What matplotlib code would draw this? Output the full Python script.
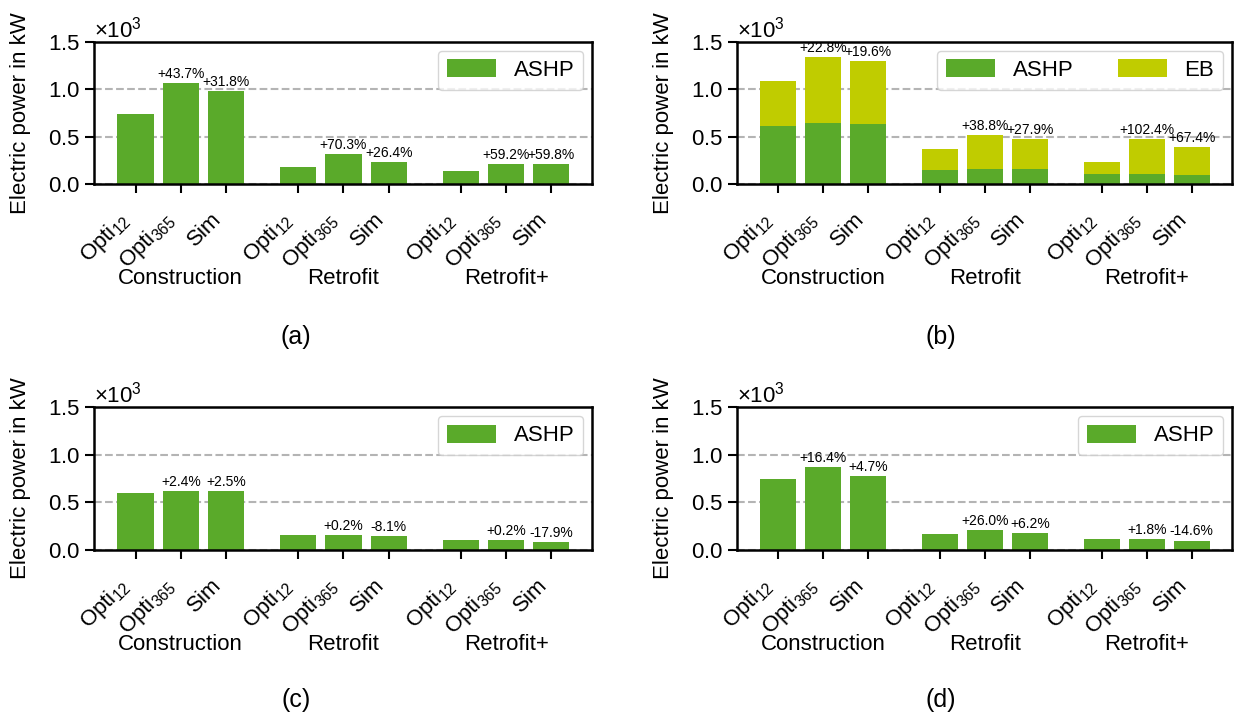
import matplotlib
matplotlib.use('Agg')
import matplotlib.pyplot as plt
import numpy as np

plt.rcParams['font.family'] = ['Liberation Sans', 'DejaVu Sans']
plt.rcParams['mathtext.default'] = 'regular'

# Categories
groups = ['Construction', 'Retrofit', 'Retrofit+']
methods = [r'Opti$_{12}$', r'Opti$_{365}$', 'Sim']

# Electric power in kW (Opti12, Opti365, Sim per group)
ashp_a = [742, 1066, 978, 184, 313, 233, 134, 213, 214]
ashp_b = [611, 643, 632, 148, 158, 158, 105, 105, 95]
eb_b = [474, 695, 664, 221, 358, 320, 127, 373, 298]
ashp_c = [603, 618, 618, 158, 158, 145, 105, 105, 86]
ashp_d = [747, 868, 780, 168, 211, 179, 116, 118, 99]

# Relative change vs. Opti12 (Opti365, Sim per group)
pct_a = ['+43.7%', '+31.8%', '+70.3%', '+26.4%', '+59.2%', '+59.8%']
pct_b = ['+22.8%', '+19.6%', '+38.8%', '+27.9%', '+102.4%', '+67.4%']
pct_c = ['+2.4%', '+2.5%', '+0.2%', '-8.1%', '+0.2%', '-17.9%']
pct_d = ['+16.4%', '+4.7%', '+26.0%', '+6.2%', '+1.8%', '-14.6%']

captions = ['(a)', '(b)', '(c)', '(d)']

C_ASHP = '#5aaa2a'
C_EB = '#c0cc00'
FS = 16

W, H = 1237, 720
fig = plt.figure(figsize=(W / 100, H / 100), dpi=100)

# axes boxes in pixels: left, right, top, bottom
boxes = [(94, 592, 41.7, 184), (737, 1232, 41.7, 184),
         (94, 592, 407, 550), (737, 1232, 407, 550)]
cap_pos = [(296, 337), (941, 337), (296, 700), (941, 700)]

x = np.array([g * 3.6 + i for g in range(len(groups)) for i in range(len(methods))])


def draw_panel(ax, ashp, pct, eb=None):
    ax.bar(x, ashp, width=0.8, color=C_ASHP, label='ASHP', zorder=2)
    tops = np.array(ashp, dtype=float)
    if eb is not None:
        ax.bar(x, eb, width=0.8, bottom=ashp, color=C_EB, label='EB', zorder=2)
        tops = tops + np.array(eb)

    # percentage labels over Opti365 and Sim bars
    k = 0
    for g in range(len(groups)):
        for i in (1, 2):
            j = g * 3 + i
            ax.annotate(pct[k], (x[j], tops[j]), xytext=(0, 1.5),
                        textcoords='offset points', ha='center', va='bottom',
                        fontsize=10)
            k += 1

    ax.set_xlim(-0.92, 10.1)
    ax.set_ylim(0, 1500)
    ax.set_yticks([0, 500, 1000, 1500])
    ax.ticklabel_format(axis='y', style='sci', scilimits=(3, 3), useMathText=True)
    ax.yaxis.get_offset_text().set_fontsize(FS)
    ax.set_xticks(x)
    ax.set_xticklabels(methods * len(groups), rotation=45, ha='right')
    ax.tick_params(axis='both', direction='out', length=6.5, width=1.5,
                   labelsize=FS)
    ax.tick_params(axis='x', pad=11)
    for s in ax.spines.values():
        s.set_linewidth(1.8)
    ax.yaxis.grid(True, linestyle='--', color='#b4b4b4', linewidth=1.5)
    ax.set_axisbelow(True)

    for g, name in enumerate(groups):
        ax.text(x[g * 3 + 1], -0.664, name, transform=ax.get_xaxis_transform(),
                ha='center', va='center', fontsize=FS)

    ax.set_ylabel('Electric power in kW', fontsize=FS)
    ax.yaxis.set_label_coords(-0.127, 0.5)

    ncol = 2 if eb is not None else 1
    ax.legend(loc='upper right', ncol=ncol, fontsize=16, handlelength=2.2,
              handleheight=0.85, borderaxespad=0.4)


data = [(ashp_a, pct_a, None), (ashp_b, pct_b, eb_b),
        (ashp_c, pct_c, None), (ashp_d, pct_d, None)]

for (l, r, t, b), (ashp, pct, eb), cap, (cx, cy) in zip(boxes, data, captions, cap_pos):
    ax = fig.add_axes([l / W, 1 - b / H, (r - l) / W, (b - t) / H])
    draw_panel(ax, ashp, pct, eb)
    fig.text(cx / W, 1 - cy / H, cap, ha='center', va='center', fontsize=18)

fig.savefig('out.png', dpi=100)
